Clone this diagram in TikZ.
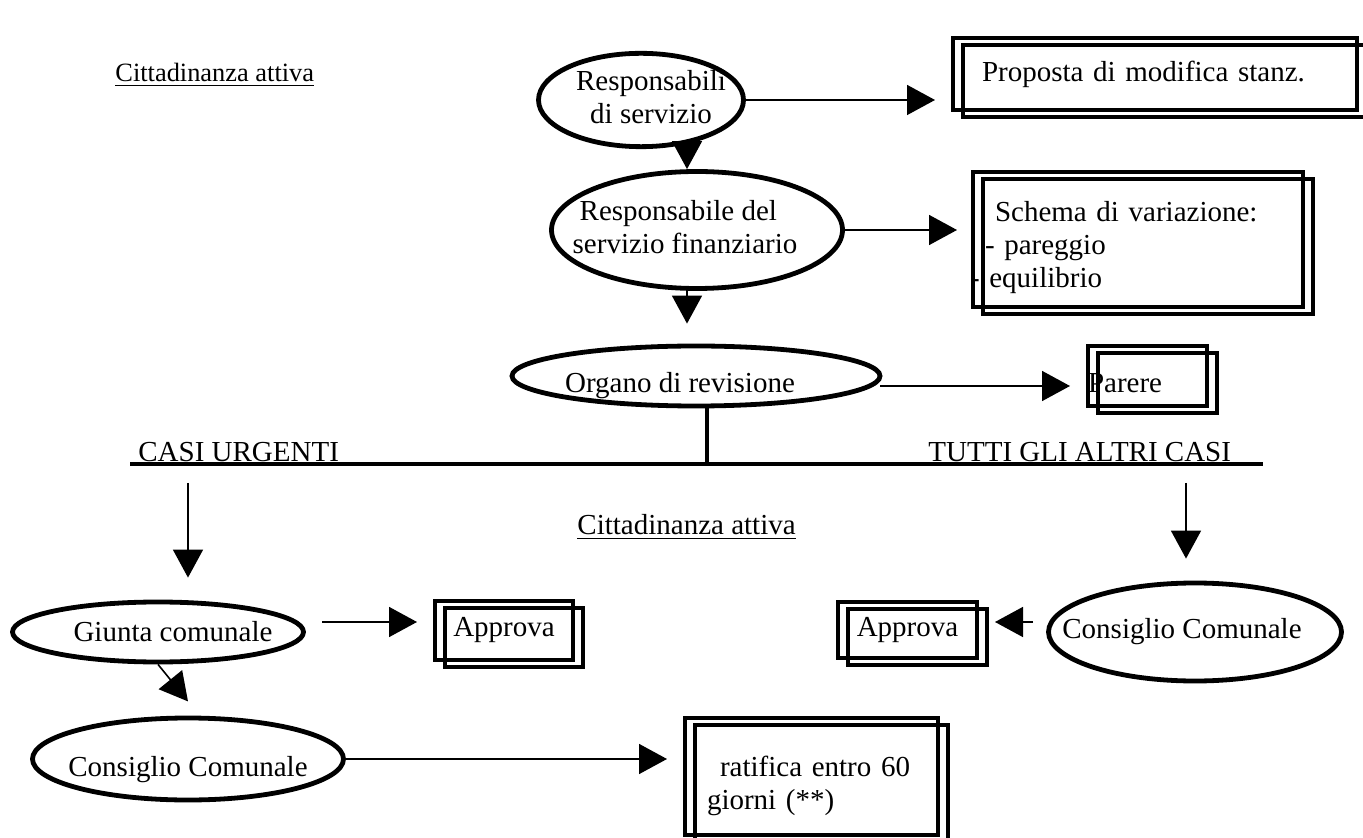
\documentclass[tikz,border=0pt]{standalone}
\usepackage{fontspec}
\setmainfont{Liberation Serif}
\usetikzlibrary{shapes,arrows.meta}

\newcommand{\lowered}[1]{\raisebox{0pt}[17pt][0pt]{#1}}

\begin{document}
\begin{tikzpicture}[x=0.5pt, y=-0.5pt, font=\fontsize{14.5pt}{16.5pt}\selectfont]
\tikzstyle{vertexe}=[ellipse, draw, line width=2.4pt, inner sep=0pt]
\tikzstyle{vertexr}=[rectangle, draw, line width=2.4pt, inner sep=0pt, outer sep=0pt]
\tikzstyle{drawstyle}=[line width=0.8pt, -{Triangle[length=14pt, width=15pt]}]
\tikzstyle{barstyle}=[line width=2pt]

\useasboundingbox (0,0) rectangle (1363,838);

\node[anchor=base west, inner sep=0pt, font=\fontsize{13.2pt}{15pt}\selectfont] (titleA) at (115,82) {\underline{Cittadinanza attiva}};
\node[vertexe, minimum width=102.5pt, minimum height=44pt] (respA) at (641,100) {\makebox[0pt]{\hspace{10pt}\begin{tabular}{@{}c@{}}Responsabili\\ di servizio\end{tabular}}};
\node[vertexr, minimum width=202pt, minimum height=36pt, text width=173pt, align=left] (prop) at (1155,74) {Proposta di modifica stanz.};
\node[vertexe, minimum width=145.5pt, minimum height=58.5pt] (respB) at (697,230) {\makebox[0pt]{\begin{tabular}{@{}l@{}}\hspace{3.5pt}Responsabile del\\servizio finanziario\end{tabular}\hspace{12pt}}};
\node[vertexr, minimum width=165pt, minimum height=67.5pt, text width=153pt, align=left] (schema) at (1138,239.5) {\rule{0pt}{18pt}\hspace*{5pt}Schema di variazione:\\- pareggio\\\hspace*{-7.5pt}- equilibrio};
\node[vertexe, minimum width=184pt, minimum height=30pt] (org) at (696,376) {\makebox[0pt]{\lowered{Organo di revisione}\hspace{16pt}}};
\node[vertexr, minimum width=59.5pt, minimum height=30pt, text width=59.5pt, align=left] (par) at (1147.5,376) {\lowered{Parere}};

\node[anchor=base west, inner sep=0pt] (urg) at (138,462) {CASI URGENTI};
\node[anchor=base west, inner sep=0pt] (altri) at (928,462) {TUTTI GLI ALTRI CASI};
\node[anchor=base west, inner sep=0pt] (titleB) at (577,535) {\underline{Cittadinanza attiva}};

\node[vertexe, minimum width=145.5pt, minimum height=30pt] (giunta) at (158,632) {\makebox[0pt]{\hspace{15pt}Giunta comunale}};
\node[vertexr, minimum width=69pt, minimum height=29.5pt] (app1) at (504,630.5) {Approva};
\node[vertexr, minimum width=69.5pt, minimum height=28pt] (app2) at (907.5,630) {Approva};
\node[vertexe, minimum width=146.5pt, minimum height=49pt] (consR) at (1195,632) {\makebox[0pt]{Consiglio Comunale\hspace{13pt}}};
\node[vertexe, minimum width=155.5pt, minimum height=41pt] (consL) at (188,759) {\makebox[0pt]{\lowered{Consiglio Comunale}}};
\node[vertexr, minimum width=126.5pt, minimum height=58.5pt, text width=104.5pt, align=left] (rat) at (811.5,776.5) {\rule{0pt}{20pt}\hspace*{6.5pt}ratifica entro 60\\giorni (**)};

% second outline of the boxes
\foreach \n in {prop,schema,par,app1,app2,rat}
  \draw[line width=2.4pt] ([shift={(10,7)}]\n.north west) rectangle ([shift={(10,7)}]\n.south east);

\coordinate (ax1) at (687,143);
\coordinate (ax2) at (687,288);
\coordinate (ax3) at (880,386);
\coordinate (ax4) at (707,406);
\coordinate (barl) at (130,464);
\coordinate (barr) at (1263,464);
\coordinate (ax5) at (188,483);
\coordinate (ax6) at (1186,483);
\coordinate (ax7) at (322,622);
\coordinate (ax8) at (1033,622);

\draw[drawstyle, shorten >=9pt] (respA.east) -- (respA.east -| prop.west);
\draw[drawstyle] (ax1) -- (ax1 |- respB.north);
\draw[drawstyle, shorten >=8pt] (respB.east) -- (respB.east -| schema.west);
\draw[drawstyle, shorten >=10pt] (ax2) -- (ax2 |- org.north);
\draw[drawstyle, shorten >=9pt] (ax3) -- (ax3 -| par.west);
\draw[barstyle] (ax4) -- (ax4 |- barl);
\draw[barstyle] (barl) -- (barr);
\draw[drawstyle, shorten >=11pt] (ax5) -- (ax5 |- giunta.north);
\draw[drawstyle, shorten >=11pt] (ax6) -- (ax6 |- consR.north);
\draw[drawstyle, shorten >=9pt] (ax7) -- (ax7 -| app1.west);
\draw[drawstyle, shorten >=9pt] (ax8) -- (ax8 -| app2.east);
\draw[drawstyle] (giunta.south) -- ++(30,37);
\draw[drawstyle, shorten >=9pt] (consL.east) -- (consL.east -| rat.west);
\end{tikzpicture}
\end{document}
